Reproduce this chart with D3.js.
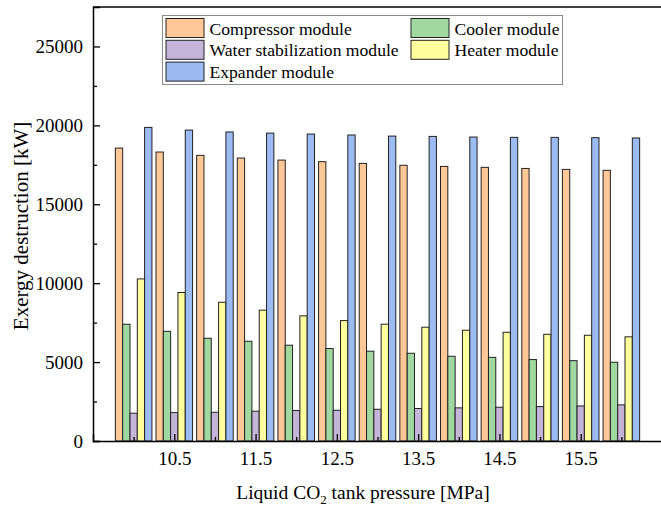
<!DOCTYPE html>
<html><head><meta charset="utf-8">
<script src="https://cdn.jsdelivr.net/npm/d3@7"></script>
<style>
html,body{margin:0;padding:0;background:#fff;}
svg, svg text{font-family:"Liberation Serif","Times New Roman",Times,serif;}
</style></head>
<body><svg id="c" width="661" height="506"></svg>
<script>
const pressures = [10, 10.5, 11, 11.5, 12, 12.5, 13, 13.5, 14, 14.5, 15, 15.5, 16];
const compressor = [18560, 18310, 18100, 17930, 17800, 17700, 17590, 17470, 17400, 17340, 17270, 17210, 17150];
const cooler     = [7400, 6950, 6510, 6320, 6070, 5860, 5690, 5560, 5370, 5300, 5160, 5090, 4990];
const water      = [1760, 1800, 1820, 1890, 1930, 1950, 2010, 2060, 2100, 2140, 2180, 2220, 2290];
const heater     = [10270, 9410, 8790, 8290, 7930, 7630, 7400, 7210, 7020, 6890, 6760, 6700, 6600];
const expander   = [19870, 19700, 19580, 19510, 19450, 19390, 19320, 19300, 19260, 19240, 19240, 19220, 19200];
const seriesNames = ["Compressor module", "Cooler module", "Water stabilization module", "Heater module", "Expander module"];
const seriesColors = ["#FFC896", "#A0D8A0", "#C4B4D8", "#FFFF9E", "#9BBBF2"];
const yTicks = [0, 5000, 10000, 15000, 20000, 25000];
const yMinorTicks = [2500, 7500, 12500, 17500, 22500];
const xTickLabels = ["10.5", "11.5", "12.5", "13.5", "14.5", "15.5"];
const xMinorTicks = [10, 11, 12, 13, 14, 15, 16];

const series = [compressor, cooler, water, heater, expander];
const svg = d3.select("#c");
const L = 93, R = 662, T = 7, B = 441;
const x = d3.scaleLinear().domain([9.5, 16.5]).range([L, R]);
const y = d3.scaleLinear().domain([0, 27500]).range([B, T]);
const barW = 0.09;

series.forEach((vals, si) => {
  svg.append("g").selectAll("rect").data(vals).join("rect")
    .attr("x", (d, i) => x(pressures[i] + (si - 2.5) * barW))
    .attr("width", x(barW) - x(0))
    .attr("y", d => y(d))
    .attr("height", d => y(0) - y(d))
    .attr("fill", seriesColors[si])
    .attr("stroke", "#222")
    .attr("stroke-width", 1);
});

const yAxis = d3.axisLeft(y).tickValues(yTicks).tickSize(-7).tickPadding(10).tickFormat(d3.format("d"));
svg.append("g").attr("class", "yax").attr("transform", `translate(${L},0)`).call(yAxis);
const yMinor = d3.axisLeft(y).tickValues(yMinorTicks).tickSize(-4).tickFormat("");
svg.append("g").attr("transform", `translate(${L},0)`).call(yMinor).select(".domain").remove();

const xAxis = d3.axisBottom(x).tickValues(xTickLabels.map(Number)).tickSize(-7).tickPadding(10.5).tickFormat(d3.format(".1f"));
svg.append("g").attr("class", "xax").attr("transform", `translate(0,${B})`).call(xAxis);
const xMinor = d3.axisBottom(x).tickValues(xMinorTicks).tickSize(-4).tickFormat("");
svg.append("g").attr("transform", `translate(0,${B})`).call(xMinor).select(".domain").remove();

svg.selectAll("g").attr("font-family", null);
svg.selectAll(".tick text").attr("font-size", 19).attr("fill", "#000");
svg.selectAll(".tick line").attr("stroke", "#000").attr("stroke-width", 1.3);
svg.selectAll(".domain").attr("stroke", "#000").attr("stroke-width", 1.5);

svg.append("line").attr("x1", L).attr("x2", R).attr("y1", T).attr("y2", T).attr("stroke", "#000").attr("stroke-width", 1.5);
svg.append("line").attr("x1", R).attr("x2", R).attr("y1", T).attr("y2", B).attr("stroke", "#000").attr("stroke-width", 1.5);

svg.append("text").attr("transform", `translate(28,226) rotate(-90)`)
  .attr("text-anchor", "middle").attr("font-size", 21).text("Exergy destruction [kW]");
const xt = svg.append("text").attr("x", 363).attr("y", 499).attr("text-anchor", "middle").attr("font-size", 19.5);
xt.append("tspan").text("Liquid CO");
xt.append("tspan").attr("font-size", 13).attr("dy", 5).text("2");
xt.append("tspan").attr("dy", -5).text(" tank pressure [MPa]");

const lg = svg.append("g");
lg.append("rect").attr("x", 162.5).attr("y", 15.5).attr("width", 400).attr("height", 69)
  .attr("fill", "#fff").attr("stroke", "#8a8a8a").attr("stroke-width", 1);
[0, 1, 2, 3, 4].forEach((si, k) => {
  const col = k % 2, row = Math.floor(k / 2);
  const sx = col === 0 ? 166 : 411;
  const sy = 18.5 + row * 21.8;
  lg.append("rect").attr("x", sx).attr("y", sy).attr("width", 38).attr("height", 19)
    .attr("fill", seriesColors[si]).attr("stroke", "#222").attr("stroke-width", 1);
  lg.append("text").attr("x", sx + 43.5).attr("y", sy + 16).attr("font-size", 17.6).text(seriesNames[si]);
});
</script></body></html>
